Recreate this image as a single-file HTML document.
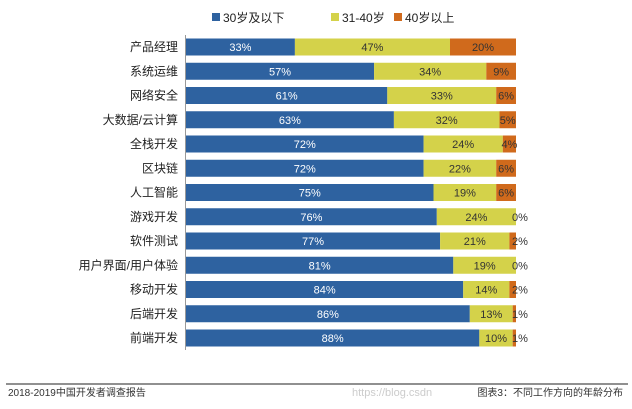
<!DOCTYPE html>
<html><head><meta charset="utf-8">
<style>
body{margin:0;background:#fff;font-family:"Liberation Sans","Noto Sans CJK SC",sans-serif;}
svg{display:block}
</style></head><body>
<svg id="c" width="632" height="409" xmlns="http://www.w3.org/2000/svg">
<g font-size="12" fill="#222">
<rect x="212" y="13" width="8" height="8" fill="#2e62a0"/><text x="223" y="22">30岁及以下</text>
<rect x="331" y="13" width="8" height="8" fill="#d4d24a"/><text x="342" y="22">31-40岁</text>
<rect x="394" y="13" width="8" height="8" fill="#d06a1c"/><text x="405" y="22">40岁以上</text>
</g>
<line x1="185.5" y1="35" x2="185.5" y2="350" stroke="#999"/>
<g id="bars"></g>
<line x1="6" y1="384" x2="628" y2="384" stroke="#222"/>
<text x="8" y="396" font-size="10" fill="#333">2018-2019中国开发者调查报告</text>
<text x="352" y="396" font-size="11" fill="#ccc">https://blog.csdn</text>
<text x="623" y="396" font-size="10" fill="#333" text-anchor="end">图表3：不同工作方向的年龄分布</text>
</svg>
<script>
const categories=["产品经理","系统运维","网络安全","大数据/云计算","全栈开发","区块链","人工智能","游戏开发","软件测试","用户界面/用户体验","移动开发","后端开发","前端开发"];
const young=[33,57,61,63,72,72,75,76,77,81,84,86,88];
const mid=[47,34,33,32,24,22,19,24,21,19,14,13,10];
const old=[20,9,6,5,4,6,6,0,2,0,2,1,1];
const colors=["#2e62a0","#d4d24a","#d06a1c"];
const x0=186,x1=516,yTop=47,step=24.25,bh=17;
const g=document.getElementById('bars');
const NS="http://www.w3.org/2000/svg";
function xs(v){return x0+(x1-x0)*v/100;}
function mk(t,a){const e=document.createElementNS(NS,t);for(const k in a)e.setAttribute(k,a[k]);return e;}
categories.forEach((c,i)=>{
  const yc=yTop+i*step;
  const lab=mk('text',{x:178,y:yc+4,'font-size':12,fill:'#222','text-anchor':'end'});
  
  
  lab.textContent=c;g.appendChild(lab);
  const vals=[young[i],mid[i],old[i]];
  const tot=vals[0]+vals[1]+vals[2];
  let acc=0;
  vals.forEach((v,j)=>{
    const a=xs(acc/tot*100),b=xs((acc+v)/tot*100);acc+=v;
    const r=mk('rect',{x:a,y:yc-bh/2,width:Math.max(0,b-a),height:bh,fill:colors[j]});
    
    
    g.appendChild(r);
    let tx=(a+b)/2,anchor='middle';
    if(j===2&&v<4){tx=b-4;anchor='start';}
    const t=mk('text',{x:tx,y:yc+4,'font-size':11,fill:j===0?'#fff':'#333','text-anchor':anchor});
    
    
    t.textContent=v+'%';g.appendChild(t);
  });
});
</script>
</body></html>
